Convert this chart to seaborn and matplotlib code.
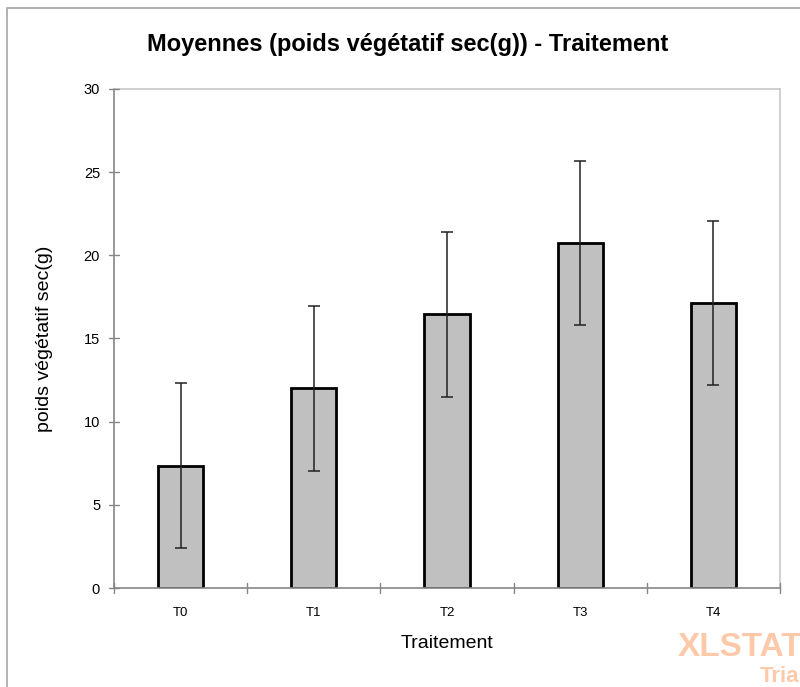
"""
Moyennes (poids végétatif sec) par traitement, style XLSTAT.
"""

import pandas as pd
import matplotlib
matplotlib.use("Agg")
import matplotlib.pyplot as plt
import matplotlib.patches as mpatches
import seaborn as sns

# data
traitements = ["T0", "T1", "T2", "T3", "T4"]
moyennes = [7.36, 12.0, 16.45, 20.75, 17.12]
erreurs = [4.94, 4.94, 4.94, 4.94, 4.94]
y_ticks = [0, 5, 10, 15, 20, 25, 30]


def setup_style():
    sns.set_theme(style="white")
    plt.rcParams["font.family"] = ["Liberation Sans", "DejaVu Sans"]
    plt.rcParams.update({
        "text.color": "black",
        "axes.labelcolor": "black",
        "xtick.color": "black",
        "ytick.color": "black",
    })


def plot_means(out_path):
    df = pd.DataFrame({"Traitement": traitements, "poids": moyennes, "err": erreurs})

    fig = plt.figure(figsize=(8, 6.87), dpi=100)
    ax = fig.add_axes([0.1425, 0.1441, 0.8325, 0.7264])

    sns.barplot(data=df, x="Traitement", y="poids", color="#c0c0c0",
                width=0.34, edgecolor="black", linewidth=2.0, saturation=1,
                errorbar=None, ax=ax)
    ax.errorbar(range(len(df)), df["poids"], yerr=df["err"], fmt="none",
                ecolor="#222222", elinewidth=1.1, capsize=4.3, capthick=1.1,
                zorder=5)

    ax.set_xlim(-0.5, len(df) - 0.5)
    ax.set_ylim(0, 30)
    ax.set_yticks(y_ticks)
    ax.set_yticklabels([str(t) for t in y_ticks], fontsize=10.5)
    ax.tick_params(axis="x", length=0, labelsize=9.5, pad=14)
    ax.tick_params(axis="y", length=0, pad=10)

    # crossing tick marks like the original (drawn as short lines)
    for t in y_ticks:
        ax.plot([-0.5 - 0.04, -0.5 + 0.04], [t, t], color="#868686", lw=1,
                clip_on=False, zorder=6)
    for b in range(len(df) + 1):
        ax.plot([b - 0.5, b - 0.5], [-0.3, 0.3], color="#868686", lw=1,
                clip_on=False, zorder=6)

    for side in ["left", "bottom"]:
        ax.spines[side].set_color("#868686")
        ax.spines[side].set_linewidth(1.2)
    for side in ["top", "right"]:
        ax.spines[side].set_color("#c8c8c8")
        ax.spines[side].set_linewidth(1.2)

    ax.set_xlabel("Traitement", fontsize=14, labelpad=11)
    ax.set_ylabel("poids végétatif sec(g)", fontsize=14, labelpad=22)

    fig.text(0.509, 0.9345, "Moyennes (poids végétatif sec(g)) - Traitement",
             ha="center", va="center", fontsize=17, fontweight="bold")

    # outer chart frame
    frame = mpatches.Rectangle((7 / 800, -0.05), 1.2, 1 - 8 / 687 + 0.05,
                               transform=fig.transFigure, fill=False,
                               edgecolor="#a6a6a6", lw=1.2)
    fig.patches.append(frame)

    # trial watermark, cut by the right edge as in the original
    fig.text(678 / 800, 1 - 648 / 687, "XLSTAT", fontsize=24, fontweight="bold",
             color="#fdc9a8", ha="left", va="center")
    fig.text(760 / 800, 1 - 676 / 687, "Trial", fontsize=16, fontweight="bold",
             color="#fdc9a8", ha="left", va="center")

    fig.savefig(out_path, dpi=100)
    plt.close(fig)


if __name__ == "__main__":
    setup_style()
    plot_means("out.png")
